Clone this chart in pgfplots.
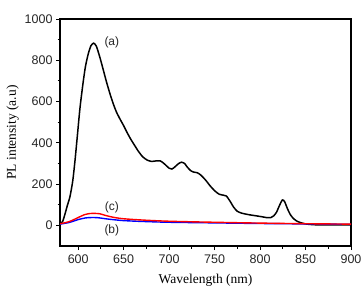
\documentclass[border=0pt]{standalone}
\usepackage{fontspec}
\setmainfont{Liberation Serif}
\setsansfont{Liberation Sans}
\usepackage{pgfplots}
\pgfplotsset{compat=1.18}
\begin{document}
\begin{tikzpicture}[x=1pt,y=1pt]
\begin{axis}[
  name=ax,
  scale only axis,
  width=291pt, height=227pt,
  xmin=580, xmax=900, ymin=-100, ymax=1000,
  xtick={600,650,...,900}, ytick={0,200,...,1000},
  minor x tick num=1, minor y tick num=1,
  tick align=outside,
  xtick pos=bottom, ytick pos=left,
  major tick length=4pt, minor tick length=2.5pt,
  every tick/.style={black, line width=0.9pt},
  axis line style={line width=1.5pt},
  tick label style={font=\sffamily\fontsize{12.5}{14}\selectfont, text=black!85},
  xticklabel style={yshift=-1pt},
  /pgf/number format/assume math mode=true,
  /pgf/number format/1000 sep={},
  xlabel={Wavelength (nm)},
  ylabel={PL intensity (a.u)},
  label style={font=\fontsize{13.5}{15}\selectfont},
  xlabel style={yshift=-4pt},
  ylabel style={yshift=-1pt},
  clip=true,
]
\addplot[black, line width=1.5pt, smooth, tension=0.4] coordinates {
(580,5)(583,20)(585.5,55)(588,95)(591,140)(594,215)(596.5,314)(599,430)(602,570)
(605.5,695)(608,770)(611,830)(614,870)(617,883)(620,868)(624,812)(627.5,755)(631,697)
(635,637)(638.5,590)(642,550)(646,515)(650,483)(654,448)(658,416)(662,388)(666,360)
(671,332)(676,316)(680.5,310)(685,312)(690,313)(694,301)(697,289)(700,277)(703,273)
(706,282)(710,298)(713.5,306)(717,300)(720,282)(724,264)(727,258)(731,255)(735,243)
(740,220)(745,192)(750,168)(755,151)(760,146)(763,142)(767,117)(771,88)(775,68)
(780,59)(785,54)(790,50)(796,46)(803,41)(808,37)(812,38)(815,46)(818,63)(821,93)
(824.5,123)(827,115)(830,82)(833,54)(836.5,34)(840,22)(844,14)(850,7)(860,3)(880,2)(900,2)
};
\addplot[blue, line width=1.4pt, smooth, tension=0.5] coordinates {
(580,6)(590,14)(600,28)(608,36)(615,38)(622,37)(630,32)(640,27)(650,23)(670,19)
(700,15)(750,12)(800,9)(850,7)(900,5)
};
\addplot[red, line width=1.4pt, smooth, tension=0.5] coordinates {
(580,8)(590,18)(600,38)(607,52)(612,57)(618,58)(624,56)(630,48)(640,38)(650,32)
(670,26)(700,20)(750,15)(800,11)(850,8)(900,6)
};
\node[font=\sffamily\fontsize{12}{14}\selectfont, text=black!85] at (axis cs:637,885) {(a)};
\node[font=\sffamily\fontsize{12}{14}\selectfont, text=black!85] at (axis cs:637,88) {(c)};
\node[font=\sffamily\fontsize{12}{14}\selectfont, text=black!85] at (axis cs:637,-22) {(b)};
\end{axis}
\pgfresetboundingbox
\path (ax.south west) ++(-60pt,-40pt) coordinate (bl);
\path (ax.north east) ++(10pt,19pt) coordinate (tr);
\path[use as bounding box] (bl) rectangle (tr);
\end{tikzpicture}
\end{document}
